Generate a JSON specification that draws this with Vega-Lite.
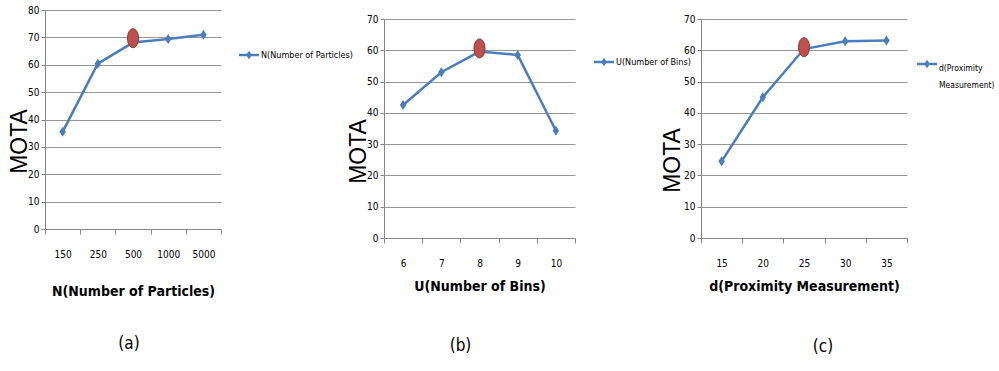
{
  "$schema": "https://vega.github.io/schema/vega-lite/v6.json",
  "padding": {"left": 8, "top": 5, "right": 0, "bottom": 0},
  "spacing": -30,
  "background": "white",
  "config": {
    "view": {"stroke": null},
    "font": "DejaVu Sans Condensed, Roboto, sans-serif",
    "style": {"guide-label": {"lineHeight": 17}},
    "axis": {
      "labelFont": "DejaVu Sans Condensed, Roboto, sans-serif",
      "labelFontSize": 10,
      "labelColor": "#000000",
      "domainColor": "#868686",
      "tickColor": "#868686",
      "gridColor": "#969696",
      "titleColor": "#000000"
    },
    "legend": {
      "title": null,
      "orient": "none",
      "symbolType": "M-1,-0.13L1,-0.13L1,0.13L-1,0.13Z M0,-0.42L0.3,0L0,0.42L-0.3,0Z",
      "symbolSize": 400,
      "symbolStrokeWidth": 0,
      "labelFont": "DejaVu Sans Condensed, Roboto, sans-serif",
      "labelFontSize": 9,
      "labelOffset": 2,
      "labelColor": "#000000",
      "labelLimit": 300,
      "padding": 0
    },
    "title": {"font": "DejaVu Sans Condensed, Roboto, sans-serif", "fontSize": 17, "fontWeight": "normal", "color": "#000000"}
  },
  "resolve": {
    "scale": {"color": "independent", "x": "independent", "y": "independent"},
    "legend": {"color": "independent"}
  },
  "hconcat": [
    {
      "spacing": -6,
      "resolve": {
        "scale": {"color": "independent", "x": "independent", "y": "independent"},
        "legend": {"color": "independent"}
      },
      "hconcat": [
        {
          "width": 176,
          "height": 219,
          "data": {"values": [
            {"N": "150", "MOTA": 35.5, "kind": "line", "series": "N(Number of Particles)"},
            {"N": "250", "MOTA": 60.4, "kind": "line", "series": "N(Number of Particles)"},
            {"N": "500", "MOTA": 68.1, "kind": "line", "series": "N(Number of Particles)"},
            {"N": "1000", "MOTA": 69.4, "kind": "line", "series": "N(Number of Particles)"},
            {"N": "5000", "MOTA": 71.0, "kind": "line", "series": "N(Number of Particles)"},
            {"N": "500", "MOTA": 69.7, "kind": "best", "series": "N(Number of Particles)"}
          ]},
          "title": {"text": "(a)", "orient": "bottom", "anchor": "middle", "frame": "group", "offset": 38, "dx": -4},
          "encoding": {
            "x": {"field": "N", "type": "ordinal", "sort": null,
              "scale": {"type": "band", "paddingInner": 0, "paddingOuter": 0},
              "axis": {"title": "N(Number of Particles)", "labelAngle": 0, "tickBand": "extent", "tickSize": 5, "labelPadding": 15, "titlePadding": 25, "titleFontSize": 14, "titleFontWeight": "bold", "grid": false}},
            "y": {"field": "MOTA", "type": "quantitative", "title": "MOTA",
              "scale": {"domain": [0, 80], "nice": false},
              "axis": {"values": [0, 10, 20, 30, 40, 50, 60, 70, 80], "grid": true, "tickSize": 4, "labelPadding": 2,
                "titleFont": "Liberation Sans", "titleFontSize": 23, "titleFontWeight": "normal", "titleX": -26, "titleY": 131, "titleBaseline": "middle"}}
          },
          "layer": [
            {
              "transform": [{"filter": "datum.kind == 'line'"}],
              "mark": {"type": "line", "color": "#4a7ebb", "strokeWidth": 2.5}
            },
            {
              "transform": [{"filter": "datum.kind == 'line'"}],
              "mark": {"type": "point", "shape": "M0,-1L0.65,0L0,1L-0.65,0Z", "filled": true, "size": 100, "opacity": 1},
              "encoding": {
                "color": {"field": "series", "type": "nominal", "scale": {"range": ["#4a7ebb"]}, "legend": {"legendX": 194, "legendY": 35}}
              }
            },
            {
              "transform": [{"filter": "datum.kind == 'best'"}],
              "mark": {"type": "point", "shape": "M0,-1A0.58,1,0,1,1,0,1A0.58,1,0,1,1,0,-1Z", "filled": true, "size": 361, "color": "#c0504d", "stroke": "#8c3836", "strokeWidth": 1, "opacity": 1}
            }
          ]
        },
        {
          "width": 191,
          "height": 228,
          "data": {"values": [
            {"U": "6", "MOTA": 42.5, "kind": "line", "series": "U(Number of Bins)"},
            {"U": "7", "MOTA": 53.0, "kind": "line", "series": "U(Number of Bins)"},
            {"U": "8", "MOTA": 59.6, "kind": "line", "series": "U(Number of Bins)"},
            {"U": "9", "MOTA": 58.5, "kind": "line", "series": "U(Number of Bins)"},
            {"U": "10", "MOTA": 34.3, "kind": "line", "series": "U(Number of Bins)"},
            {"U": "8", "MOTA": 60.6, "kind": "best", "series": "U(Number of Bins)"}
          ]},
          "title": {"text": "(b)", "orient": "bottom", "anchor": "middle", "frame": "group", "offset": 45, "dx": -19},
          "encoding": {
            "x": {"field": "U", "type": "ordinal", "sort": null,
              "scale": {"type": "band", "paddingInner": 0, "paddingOuter": 0},
              "axis": {"title": "U(Number of Bins)", "labelAngle": 0, "tickBand": "extent", "tickSize": 5, "labelPadding": 15, "titlePadding": 11, "titleFontSize": 14, "titleFontWeight": "bold", "grid": false}},
            "y": {"field": "MOTA", "type": "quantitative", "title": "MOTA",
              "scale": {"domain": [0, 70], "nice": false, "range": [228, 9]},
              "axis": {"values": [0, 10, 20, 30, 40, 50, 60, 70], "grid": true, "tickSize": 4, "labelPadding": 2,
                "titleFont": "Liberation Sans", "titleFontSize": 23, "titleFontWeight": "normal", "titleX": -26, "titleY": 141, "titleBaseline": "middle"}}
          },
          "layer": [
            {
              "transform": [{"filter": "datum.kind == 'line'"}],
              "mark": {"type": "line", "color": "#4a7ebb", "strokeWidth": 2.5}
            },
            {
              "transform": [{"filter": "datum.kind == 'line'"}],
              "mark": {"type": "point", "shape": "M0,-1L0.65,0L0,1L-0.65,0Z", "filled": true, "size": 100, "opacity": 1},
              "encoding": {
                "color": {"field": "series", "type": "nominal", "scale": {"range": ["#4a7ebb"]}, "legend": {"legendX": 210, "legendY": 42}}
              }
            },
            {
              "transform": [{"filter": "datum.kind == 'best'"}],
              "mark": {"type": "point", "shape": "M0,-1A0.58,1,0,1,1,0,1A0.58,1,0,1,1,0,-1Z", "filled": true, "size": 361, "color": "#c0504d", "stroke": "#8c3836", "strokeWidth": 1, "opacity": 1}
            }
          ]
        }
      ]
    },
    {
      "width": 206,
      "height": 228,
      "data": {"values": [
        {"d": "15", "MOTA": 24.5, "kind": "line", "series": "d(Proximity Measurement)"},
        {"d": "20", "MOTA": 45.0, "kind": "line", "series": "d(Proximity Measurement)"},
        {"d": "25", "MOTA": 60.4, "kind": "line", "series": "d(Proximity Measurement)"},
        {"d": "30", "MOTA": 62.9, "kind": "line", "series": "d(Proximity Measurement)"},
        {"d": "35", "MOTA": 63.1, "kind": "line", "series": "d(Proximity Measurement)"},
        {"d": "25", "MOTA": 61.0, "kind": "best", "series": "d(Proximity Measurement)"}
      ]},
      "title": {"text": "(c)", "orient": "bottom", "anchor": "middle", "frame": "group", "offset": 46, "dx": 19},
      "encoding": {
        "x": {"field": "d", "type": "ordinal", "sort": null,
          "scale": {"type": "band", "paddingInner": 0, "paddingOuter": 0},
          "axis": {"title": "d(Proximity Measurement)", "labelAngle": 0, "tickBand": "extent", "tickSize": 5, "labelPadding": 15, "titlePadding": 11, "titleFontSize": 14, "titleFontWeight": "bold", "grid": false}},
        "y": {"field": "MOTA", "type": "quantitative", "title": "MOTA",
          "scale": {"domain": [0, 70], "nice": false, "range": [228, 9]},
          "axis": {"values": [0, 10, 20, 30, 40, 50, 60, 70], "grid": true, "tickSize": 4, "labelPadding": 2,
            "titleFont": "Liberation Sans", "titleFontSize": 23, "titleFontWeight": "normal", "titleX": -29, "titleY": 150, "titleBaseline": "middle"}}
      },
      "layer": [
        {
          "transform": [{"filter": "datum.kind == 'line'"}],
          "mark": {"type": "line", "color": "#4a7ebb", "strokeWidth": 2.5}
        },
        {
          "transform": [{"filter": "datum.kind == 'line'"}],
          "mark": {"type": "point", "shape": "M0,-1L0.65,0L0,1L-0.65,0Z", "filled": true, "size": 100, "opacity": 1},
          "encoding": {
            "color": {"field": "series", "type": "nominal", "scale": {"range": ["#4a7ebb"]}, "legend": {"legendX": 216, "legendY": 44, "labelExpr": "split(datum.label, ' ')", "labelBaseline": "top", "labelFontSize": 8.5}}
          }
        },
        {
          "transform": [{"filter": "datum.kind == 'best'"}],
          "mark": {"type": "point", "shape": "M0,-1A0.58,1,0,1,1,0,1A0.58,1,0,1,1,0,-1Z", "filled": true, "size": 361, "color": "#c0504d", "stroke": "#8c3836", "strokeWidth": 1, "opacity": 1}
        }
      ]
    }
  ]
}
